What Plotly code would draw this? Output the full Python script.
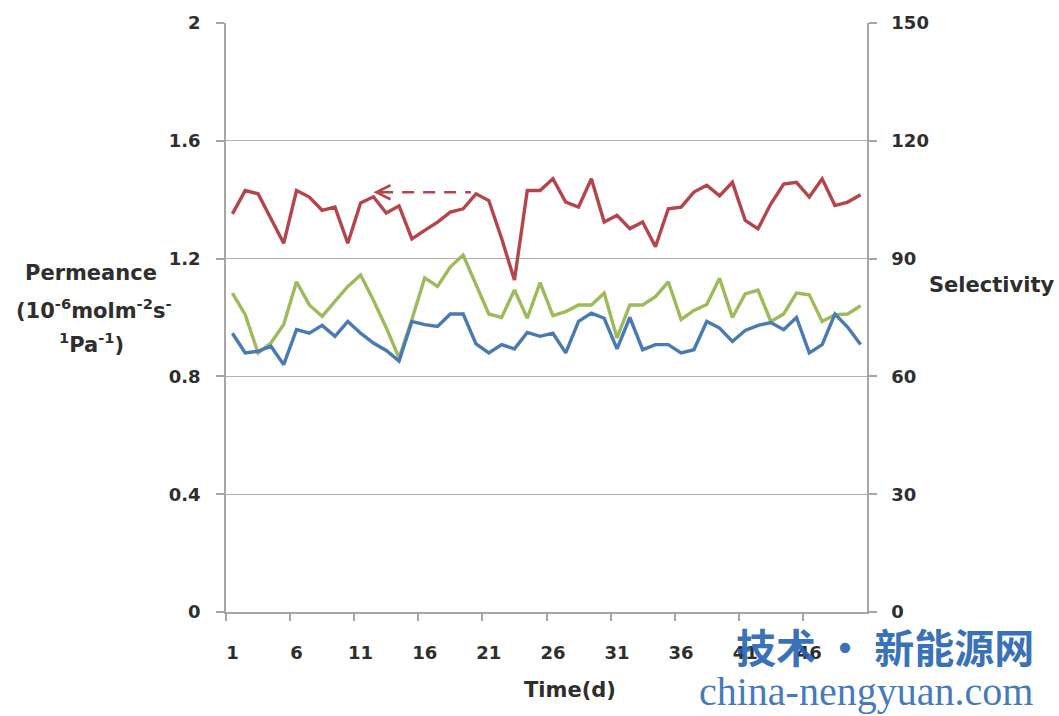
import plotly.graph_objects as go

# ---- data -------------------------------------------------------------
days = list(range(1, 51))
x_tick_labels = ["1", "6", "11", "16", "21", "26", "31", "36", "41", "46"]

# H2 permeance, 10^-6 mol m^-2 s^-1 Pa^-1 (left axis)
permeance = [1.352, 1.431, 1.420, 1.336, 1.252, 1.431, 1.409, 1.364, 1.375, 1.252,
             1.389, 1.410, 1.355, 1.379, 1.267, 1.296, 1.324, 1.358, 1.369, 1.420,
             1.397, 1.268, 1.127, 1.431, 1.431, 1.471, 1.392, 1.375, 1.471, 1.324,
             1.347, 1.302, 1.324, 1.240, 1.369, 1.375, 1.426, 1.449, 1.413, 1.459,
             1.330, 1.301, 1.386, 1.453, 1.459, 1.409, 1.471, 1.380, 1.392, 1.417]

# selectivities (right axis)
selectivity_a = [81.2, 75.7, 66.0, 68.5, 73.2, 84.1, 78.2, 75.3, 79.1, 82.9,
                 85.8, 79.4, 72.4, 64.7, 74.5, 85.1, 82.9, 87.9, 90.9, 83.5,
                 75.9, 75.0, 82.0, 74.8, 83.9, 75.5, 76.5, 78.2, 78.2, 81.2,
                 69.8, 78.2, 78.2, 80.3, 84.1, 74.5, 76.8, 78.3, 85.0, 75.0,
                 81.0, 82.0, 74.0, 75.9, 81.2, 80.8, 74.0, 75.7, 75.9, 78.0]

selectivity_b = [71.0, 66.0, 66.4, 67.7, 63.0, 71.9, 71.0, 73.0, 70.2, 74.0,
                 71.0, 68.5, 66.6, 63.9, 74.0, 73.2, 72.7, 75.9, 75.9, 68.3,
                 66.0, 68.1, 67.0, 71.2, 70.2, 71.0, 66.0, 74.0, 76.1, 74.8,
                 67.0, 75.0, 66.8, 68.1, 68.1, 66.0, 66.8, 74.0, 72.3, 68.9,
                 71.7, 73.0, 73.7, 71.9, 75.0, 66.0, 68.1, 75.9, 72.5, 68.1]

left_ticks = [0, 0.4, 0.8, 1.2, 1.6, 2]
left_tick_text = ["0", "0.4", "0.8", "1.2", "1.6", "2"]
right_ticks = [0, 30, 60, 90, 120, 150]

# dashed arrow pointing from the permeance curve to the left axis
arrow_level = 1.425
arrow_tip_day = 12.0
arrow_tail_day = 19.6

# ---- styling ----------------------------------------------------------
W, H = 1059, 716
ML, MR, MT, MB = 226, 192, 20, 104
PW, PH = W - ML - MR, H - MT - MB

RED = "#B5454B"
GREEN = "#9DBB5A"
BLUE = "#4A7AB4"
AXIS = "#A6A6A6"
TEXT = "#2E2E2E"
FONT = "DejaVu Sans"


def px(x, y):
    """pixel position -> paper coordinates"""
    return (x - ML) / PW, (H - MB - y) / PH


fig = go.Figure()

fig.add_trace(go.Scatter(x=days, y=permeance, mode="lines",
                         line=dict(color=RED, width=3.4), yaxis="y",
                         showlegend=False))
fig.add_trace(go.Scatter(x=days, y=selectivity_a, mode="lines",
                         line=dict(color=GREEN, width=3.4), yaxis="y2",
                         showlegend=False))
fig.add_trace(go.Scatter(x=days, y=selectivity_b, mode="lines",
                         line=dict(color=BLUE, width=3.4), yaxis="y2",
                         showlegend=False))

# dashed shaft
fig.add_shape(type="line", xref="x", yref="y",
              x0=arrow_tip_day + 0.6, x1=arrow_tail_day,
              y0=arrow_level, y1=arrow_level,
              line=dict(color=RED, width=2.5, dash="12px,9px"))
# arrow head
fig.add_annotation(x=arrow_tip_day, y=arrow_level, ax=arrow_tip_day + 0.9,
                   ay=arrow_level, xref="x", yref="y", axref="x", ayref="y",
                   text="", showarrow=True, arrowhead=5, arrowsize=1.1,
                   arrowwidth=2.5, arrowcolor=RED)

tickfont = dict(family=FONT, size=18, color=TEXT, weight="bold")
titlefont = dict(family=FONT, size=21, color=TEXT, weight="bold")

fig.update_layout(
    width=W, height=H,
    margin=dict(l=ML, r=MR, t=MT, b=MB),
    paper_bgcolor="white", plot_bgcolor="white",
    xaxis=dict(range=[0.5, 50.5], tickmode="array",
               tickvals=[int(t) for t in x_tick_labels], ticktext=x_tick_labels,
               ticks="", showgrid=False, zeroline=False,
               showline=True, linecolor=AXIS, linewidth=1.5,
               tickfont=tickfont, ticklabelstandoff=24,
               minor=dict(tickmode="array",
                          tickvals=[int(t) - 0.5 for t in x_tick_labels],
                          ticks="outside", ticklen=7, tickcolor=AXIS,
                          tickwidth=1.5, showgrid=False)),
    yaxis=dict(range=[0, 2], tickmode="array", tickvals=left_ticks,
               ticktext=left_tick_text, ticks="outside", ticklen=8,
               tickcolor=AXIS, tickwidth=1.5,
               showline=True, linecolor=AXIS, linewidth=1.5,
               showgrid=True, gridcolor="#B0B0B0", gridwidth=1,
               zeroline=False, tickfont=tickfont, ticklabelstandoff=12),
    yaxis2=dict(range=[0, 150], tickmode="array", tickvals=right_ticks,
                overlaying="y", side="right", ticks="outside", ticklen=8,
                tickcolor=AXIS, tickwidth=1.5,
                showline=True, linecolor=AXIS, linewidth=1.5,
                showgrid=False, zeroline=False, tickfont=tickfont,
                ticklabelstandoff=11),
)

# axis titles
for text, (cx, cy) in [("Permeance", (91, 271)),
                       ("(10<sup>-6</sup>molm<sup>-2</sup>s<sup>-</sup>", (93, 307)),
                       ("<sup>1</sup>Pa<sup>-1</sup>)", (91, 342)),
                       ("Selectivity", (991, 283)),
                       ("Time(d)", (570, 690))]:
    xp, yp = px(cx, cy)
    fig.add_annotation(x=xp, y=yp, xref="paper", yref="paper", text=text,
                       showarrow=False, xanchor="center", yanchor="middle",
                       font=titlefont)

# site mark
xp, yp = px(885, 646)
fig.add_annotation(x=xp, y=yp, xref="paper", yref="paper",
                   text="<b>技术 · 新能源网</b>", showarrow=False,
                   xanchor="center", yanchor="middle",
                   font=dict(family="Noto Sans CJK SC", size=40,
                             color="rgba(38,100,178,0.92)"))
xp, yp = px(866, 692)
fig.add_annotation(x=xp, y=yp, xref="paper", yref="paper",
                   text="china-nengyuan.com", showarrow=False,
                   xanchor="center", yanchor="middle",
                   font=dict(family="Liberation Serif", size=40,
                             color="rgba(50,110,180,0.92)"))

fig.write_html("out.html")
